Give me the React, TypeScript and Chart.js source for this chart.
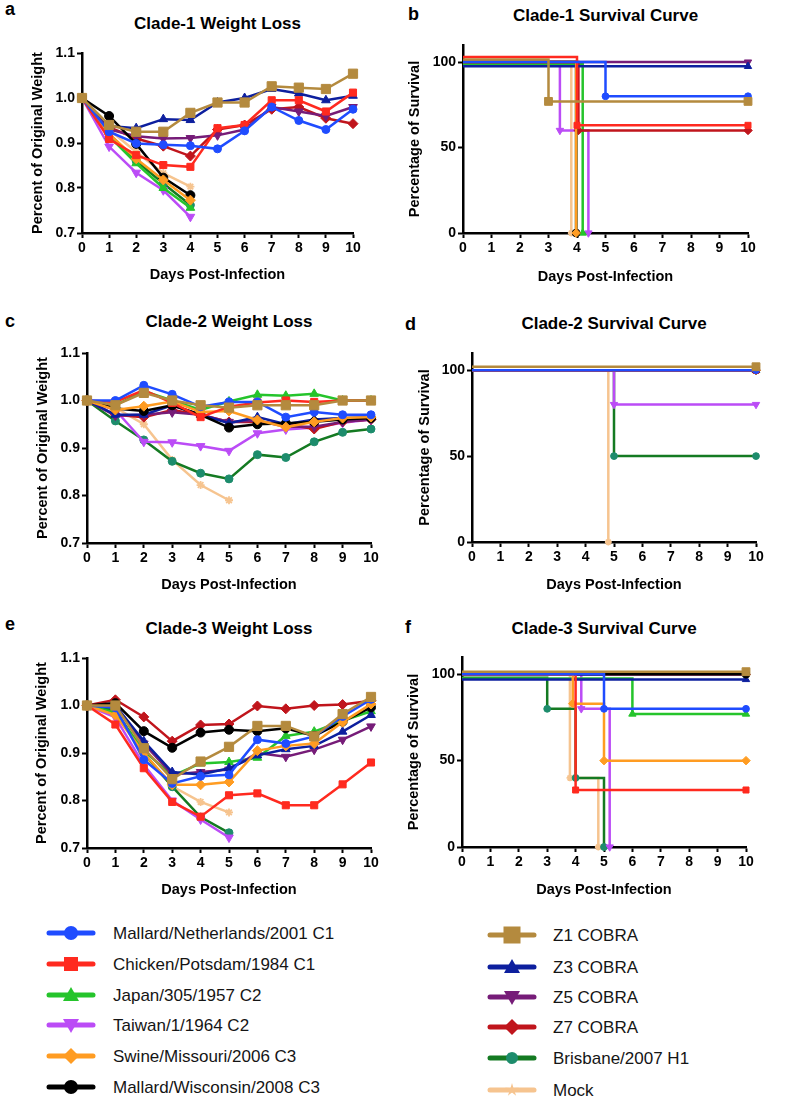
import React, { useEffect, useRef } from 'react';
import { Chart, registerables } from 'chart.js';

Chart.register(...registerables);

const FONT = "'Liberation Sans', Arial, Helvetica, sans-serif";

// ---------------- axes ----------------
const DAYS = [0, 1, 2, 3, 4, 5, 6, 7, 8, 9, 10];
const WEIGHT_TICKS = [0.7, 0.8, 0.9, 1.0, 1.1];
const SURVIVAL_TICKS = [0, 50, 100];

// ---------------- Clade-1 weight (fraction of original weight, by day) ----------------
const W1_MALLARD_NL = [1.0, 0.925, 0.899, 0.896, 0.894, 0.887, 0.927, 0.980, 0.950, 0.930, 0.975];
const W1_CHICKEN = [1.0, 0.909, 0.873, 0.851, 0.847, 0.933, 0.940, 0.995, 0.995, 0.970, 1.012];
const W1_JAPAN = [1.0, 0.915, 0.855, 0.800, 0.756];
const W1_TAIWAN = [1.0, 0.892, 0.834, 0.795, 0.736];
const W1_SWINE = [1.0, 0.920, 0.865, 0.818, 0.773];
const W1_MALLARD_WI = [1.0, 0.960, 0.898, 0.823, 0.784];
const W1_Z1 = [1.0, 0.940, 0.925, 0.925, 0.967, 0.990, 0.990, 1.026, 1.023, 1.020, 1.054];
const W1_Z3 = [1.0, 0.938, 0.933, 0.953, 0.951, 0.990, 1.000, 1.020, 1.010, 0.995, 1.005];
const W1_Z5 = [1.0, 0.930, 0.915, 0.910, 0.911, 0.917, 0.930, 0.980, 0.970, 0.960, 0.980];
const W1_Z7 = [1.0, 0.935, 0.910, 0.893, 0.871, 0.930, 0.940, 0.975, 0.980, 0.955, 0.943];
const W1_BRISBANE = [1.0, 0.920, 0.860, 0.810, 0.762];
const W1_MOCK = [1.0, 0.930, 0.880, 0.833, 0.803];

// ---------------- Clade-2 weight ----------------
const W2_MALLARD_NL = [1.0, 1.0, 1.032, 1.013, 0.987, 0.997, 0.997, 0.965, 0.976, 0.970, 0.970];
const W2_CHICKEN = [1.0, 0.997, 1.022, 0.995, 0.965, 0.987, 0.996, 1.0, 0.997, 1.0, 1.0];
const W2_JAPAN = [1.0, 0.990, 1.020, 1.000, 0.980, 0.998, 1.012, 1.010, 1.014, 1.0, 1.0];
const W2_TAIWAN = [1.0, 0.980, 0.913, 0.912, 0.904, 0.894, 0.931, 0.939, 0.943, 0.953, 0.960];
const W2_SWINE = [1.0, 0.980, 0.988, 0.998, 0.976, 0.978, 0.959, 0.944, 0.955, 0.963, 0.965];
const W2_MALLARD_WI = [1.0, 0.983, 0.978, 0.990, 0.970, 0.943, 0.950, 0.952, 0.955, 0.960, 0.963];
const W2_Z1 = [1.0, 0.990, 1.016, 1.000, 0.990, 0.985, 0.990, 0.990, 0.990, 1.0, 1.0];
const W2_Z3 = [1.0, 0.970, 0.970, 0.990, 0.970, 0.952, 0.965, 0.950, 0.960, 0.963, 0.965];
const W2_Z5 = [1.0, 0.968, 0.970, 0.975, 0.970, 0.955, 0.958, 0.945, 0.945, 0.955, 0.960];
const W2_Z7 = [1.0, 0.970, 0.965, 0.980, 0.970, 0.955, 0.955, 0.950, 0.940, 0.955, 0.960];
const W2_BRISBANE = [1.0, 0.957, 0.917, 0.872, 0.847, 0.835, 0.886, 0.880, 0.913, 0.933, 0.940];
const W2_MOCK = [1.0, 0.985, 0.950, 0.875, 0.822, 0.790];

// ---------------- Clade-3 weight ----------------
const W3_MALLARD_NL = [1.0, 0.995, 0.886, 0.836, 0.851, 0.854, 0.928, 0.920, 0.935, 0.977, 1.013];
const W3_CHICKEN = [1.0, 0.960, 0.868, 0.797, 0.766, 0.811, 0.815, 0.790, 0.790, 0.834, 0.880];
const W3_JAPAN = [1.0, 0.985, 0.905, 0.852, 0.878, 0.881, 0.890, 0.936, 0.945, 0.968, 0.988];
const W3_TAIWAN = [1.0, 0.975, 0.875, 0.800, 0.760, 0.722];
const W3_SWINE = [1.0, 0.980, 0.900, 0.833, 0.833, 0.839, 0.905, 0.915, 0.920, 0.965, 1.003];
const W3_MALLARD_WI = [1.0, 1.005, 0.946, 0.911, 0.943, 0.949, 0.946, 0.952, 0.936, 0.966, 0.996];
const W3_Z1 = [1.0, 1.0, 0.910, 0.845, 0.882, 0.913, 0.957, 0.957, 0.935, 0.982, 1.018];
const W3_Z3 = [1.0, 1.0, 0.925, 0.860, 0.855, 0.868, 0.895, 0.908, 0.915, 0.945, 0.980];
const W3_Z5 = [1.0, 1.0, 0.920, 0.855, 0.860, 0.865, 0.900, 0.892, 0.907, 0.928, 0.956];
const W3_Z7 = [1.0, 1.012, 0.976, 0.925, 0.959, 0.961, 0.999, 0.993, 1.0, 1.002, 1.010];
const W3_BRISBANE = [1.0, 0.990, 0.900, 0.829, 0.765, 0.732];
const W3_MOCK = [1.0, 0.985, 0.895, 0.830, 0.797, 0.775];

// ---------------- Clade-1 survival ([day, % surviving]) ----------------
const S1_MALLARD_NL = [[0, 100], [5, 80], [10, 80]];
const S1_CHICKEN = [[0, 103], [4, 63], [10, 63]];
const S1_JAPAN = [[0, 99], [4.2, 0]];
const S1_TAIWAN = [[0, 100], [3.4, 60], [4.4, 0]];
const S1_SWINE = [[0, 100], [3.97, 0]];
const S1_MALLARD_WI = [[0, 100], [3.97, 0]];
const S1_Z1 = [[0, 101.5], [3, 77], [10, 77]];
const S1_Z3 = [[0, 97.5], [10, 97.5]];
const S1_Z5 = [[0, 100], [10, 100]];
const S1_Z7 = [[0, 100], [4.05, 60], [10, 60]];
const S1_BRISBANE = [[0, 100], [3.97, 0]];
const S1_MOCK = [[0, 100], [3.8, 0]];

// ---------------- Clade-2 survival ----------------
const S2_MALLARD_NL = [[0, 100], [10, 100]];
const S2_CHICKEN = [[0, 100], [10, 100]];
const S2_JAPAN = [[0, 100], [10, 100]];
const S2_TAIWAN = [[0, 100], [5, 80], [10, 80]];
const S2_SWINE = [[0, 100], [10, 100]];
const S2_MALLARD_WI = [[0, 100], [10, 100]];
const S2_Z1 = [[0, 102], [10, 102]];
const S2_Z3 = [[0, 100], [10, 100]];
const S2_Z5 = [[0, 100], [10, 100]];
const S2_Z7 = [[0, 100], [10, 100]];
const S2_BRISBANE = [[0, 100], [5, 50], [10, 50]];
const S2_MOCK = [[0, 100], [4.8, 0]];

// ---------------- Clade-3 survival ----------------
const S3_MALLARD_NL = [[0, 100], [5, 80], [10, 80]];
const S3_CHICKEN = [[0, 100], [4, 33], [10, 33]];
const S3_JAPAN = [[0, 97.5], [6, 77], [10, 77]];
const S3_TAIWAN = [[0, 100], [4.2, 80], [5.2, 0]];
const S3_SWINE = [[0, 100], [3.9, 83], [5, 50], [10, 50]];
const S3_MALLARD_WI = [[0, 100], [10, 100]];
const S3_Z1 = [[0, 101.5], [10, 101.5]];
const S3_Z3 = [[0, 97], [10, 97]];
const S3_Z5 = [[0, 100], [10, 100]];
const S3_Z7 = [[0, 100], [10, 100]];
const S3_BRISBANE = [[0, 98], [3, 80], [4, 40], [5, 0]];
const S3_MOCK = [[0, 100], [3.8, 40], [4.8, 0]];

// ---------------- series styles ----------------
const STYLE: Record<string, any> = {
  mallardNL: { label: 'Mallard/Netherlands/2001 C1', color: '#1f4cff', shape: 'circle', rot: 0, r: 4 },
  chicken: { label: 'Chicken/Potsdam/1984 C1', color: '#ff2a1f', shape: 'rect', rot: 0, r: 5 },
  japan: { label: 'Japan/305/1957 C2', color: '#25c42b', shape: 'triangle', rot: 0, r: 5 },
  taiwan: { label: 'Taiwan/1/1964 C2', color: '#bb4cf6', shape: 'triangle', rot: 180, r: 5 },
  swine: { label: 'Swine/Missouri/2006 C3', color: '#ff9c22', shape: 'rectRot', rot: 0, r: 5 },
  mallardWI: { label: 'Mallard/Wisconsin/2008 C3', color: '#000000', shape: 'circle', rot: 0, r: 4.5 },
  z1: { label: 'Z1 COBRA', color: '#b48a3e', shape: 'rect', rot: 0, r: 6.5 },
  z3: { label: 'Z3 COBRA', color: '#0d1f9e', shape: 'triangle', rot: 0, r: 5 },
  z5: { label: 'Z5 COBRA', color: '#761c78', shape: 'triangle', rot: 180, r: 5 },
  z7: { label: 'Z7 COBRA', color: '#c0151c', shape: 'rectRot', rot: 0, r: 5 },
  brisbane: { label: 'Brisbane/2007 H1', color: '#147a22', point: '#1d8c6c', shape: 'circle', rot: 0, r: 4 },
  mock: { label: 'Mock', color: '#f6c48f', shape: 'star', rot: 0, r: 4 },
};

// first = drawn on top
const DRAW_ORDER = ['z1', 'mallardNL', 'chicken', 'swine', 'mallardWI', 'z3', 'z5', 'z7', 'japan', 'taiwan', 'brisbane', 'mock'];

const LEGEND_LEFT = ['mallardNL', 'chicken', 'japan', 'taiwan', 'swine', 'mallardWI'];
const LEGEND_RIGHT = ['z1', 'z3', 'z5', 'z7', 'brisbane', 'mock'];
const LEGEND_LEFT_ROWS = [933, 964, 995, 1025, 1056, 1087];
const LEGEND_RIGHT_ROWS = [935, 967, 997, 1027, 1058, 1090];

const PANELS: any[] = [
  {
    letter: 'a', title: 'Clade-1 Weight Loss', kind: 'weight',
    series: { mallardNL: W1_MALLARD_NL, chicken: W1_CHICKEN, japan: W1_JAPAN, taiwan: W1_TAIWAN, swine: W1_SWINE, mallardWI: W1_MALLARD_WI, z1: W1_Z1, z3: W1_Z3, z5: W1_Z5, z7: W1_Z7, brisbane: W1_BRISBANE, mock: W1_MOCK },
    L: 82, R: 353, T: 53, B: 233, yt: 38, xt: 275, cl: 0, titleBase: 29.5, letterBase: 15, letterX: 5,
  },
  {
    letter: 'b', title: 'Clade-1 Survival Curve', kind: 'survival',
    series: { mallardNL: S1_MALLARD_NL, chicken: S1_CHICKEN, japan: S1_JAPAN, taiwan: S1_TAIWAN, swine: S1_SWINE, mallardWI: S1_MALLARD_WI, z1: S1_Z1, z3: S1_Z3, z5: S1_Z5, z7: S1_Z7, brisbane: S1_BRISBANE, mock: S1_MOCK },
    L: 463, R: 748, T: 45, B: 233, yt: 415, xt: 277, cl: 400, titleBase: 21, letterBase: 20, letterX: 408,
  },
  {
    letter: 'c', title: 'Clade-2 Weight Loss', kind: 'weight',
    series: { mallardNL: W2_MALLARD_NL, chicken: W2_CHICKEN, japan: W2_JAPAN, taiwan: W2_TAIWAN, swine: W2_SWINE, mallardWI: W2_MALLARD_WI, z1: W2_Z1, z3: W2_Z3, z5: W2_Z5, z7: W2_Z7, brisbane: W2_BRISBANE, mock: W2_MOCK },
    L: 87, R: 371, T: 353, B: 543, yt: 43, xt: 585, cl: 0, titleBase: 327, letterBase: 327, letterX: 5,
  },
  {
    letter: 'd', title: 'Clade-2 Survival Curve', kind: 'survival',
    series: { mallardNL: S2_MALLARD_NL, chicken: S2_CHICKEN, japan: S2_JAPAN, taiwan: S2_TAIWAN, swine: S2_SWINE, mallardWI: S2_MALLARD_WI, z1: S2_Z1, z3: S2_Z3, z5: S2_Z5, z7: S2_Z7, brisbane: S2_BRISBANE, mock: S2_MOCK },
    L: 472, R: 756, T: 353, B: 542, yt: 425, xt: 585, cl: 400, titleBase: 329, letterBase: 330, letterX: 405,
  },
  {
    letter: 'e', title: 'Clade-3 Weight Loss', kind: 'weight',
    series: { mallardNL: W3_MALLARD_NL, chicken: W3_CHICKEN, japan: W3_JAPAN, taiwan: W3_TAIWAN, swine: W3_SWINE, mallardWI: W3_MALLARD_WI, z1: W3_Z1, z3: W3_Z3, z5: W3_Z5, z7: W3_Z7, brisbane: W3_BRISBANE, mock: W3_MOCK },
    L: 87, R: 371, T: 658, B: 848, yt: 42, xt: 890, cl: 0, titleBase: 634, letterBase: 630, letterX: 5,
  },
  {
    letter: 'f', title: 'Clade-3 Survival Curve', kind: 'survival',
    series: { mallardNL: S3_MALLARD_NL, chicken: S3_CHICKEN, japan: S3_JAPAN, taiwan: S3_TAIWAN, swine: S3_SWINE, mallardWI: S3_MALLARD_WI, z1: S3_Z1, z3: S3_Z3, z5: S3_Z5, z7: S3_Z7, brisbane: S3_BRISBANE, mock: S3_MOCK },
    L: 462, R: 746, T: 657, B: 847, yt: 414, xt: 890, cl: 400, titleBase: 634, letterBase: 633, letterX: 405,
  },
];

const TITLE_FONT_SIZE = 14.5;
const TITLE_HALF = (TITLE_FONT_SIZE * 1.2) / 2;

function geometry(p: any) {
  const ct = p.T - 14;
  const cw = p.R + 24 - p.cl;
  const ch = Math.round(p.xt + TITLE_HALF + 2 - ct);
  return { ct, cw, ch };
}

function buildConfig(p: any, ct: number, cw: number, ch: number): any {
  const isW = p.kind === 'weight';
  const tickFont = { family: FONT, size: 14, weight: 'bold' };
  const axTitleFont = { family: FONT, size: TITLE_FONT_SIZE, weight: 'bold' };
  const datasets = DRAW_ORDER.filter((k) => p.series[k]).map((k) => {
    const st = STYLE[k];
    const raw = p.series[k];
    const pts = isW
      ? raw.map((v: number, i: number) => ({ x: DAYS[i], y: v }))
      : raw.map((xy: number[]) => ({ x: xy[0], y: xy[1] }));
    const pc = st.point || st.color;
    const rad = isW ? st.r : st.r * 0.85;
    return {
      label: st.label,
      data: pts,
      borderColor: st.color,
      backgroundColor: pc,
      borderWidth: 2.5,
      pointStyle: st.shape,
      pointRotation: st.rot,
      pointRadius: isW ? rad : pts.map((_: any, i: number) => (i === 0 ? 0 : rad)),
      pointBackgroundColor: pc,
      pointBorderColor: pc,
      pointBorderWidth: st.shape === 'star' ? 1.8 : 1,
      stepped: isW ? false : 'before',
      tension: 0,
      clip: false,
    };
  });
  const gridOpts = { display: true, drawOnChartArea: false, drawTicks: true, tickLength: 5, tickWidth: 2, tickColor: '#000', color: '#000' };
  return {
    type: 'line',
    data: { datasets },
    options: {
      responsive: false,
      animation: false,
      devicePixelRatio: 1,
      events: [],
      layout: { padding: { left: 0, top: p.T - ct, right: p.cl + cw - p.R, bottom: 0 } },
      plugins: { legend: { display: false }, tooltip: { enabled: false }, title: { display: false } },
      scales: {
        x: {
          type: 'linear', position: 'bottom', min: 0, max: 10,
          afterBuildTicks: (s: any) => { s.ticks = DAYS.map((v) => ({ value: v })); },
          afterFit: (s: any) => { s.height = ct + ch - p.B; s.paddingLeft = 0; s.paddingRight = 0; },
          grid: gridOpts,
          border: { display: true, color: '#000', width: 2.5 },
          ticks: { color: '#000', font: tickFont, padding: 2, maxRotation: 0, autoSkip: false, callback: (v: any) => String(v) },
          title: { display: true, text: 'Days Post-Infection', color: '#000', font: axTitleFont, padding: { top: 0, bottom: 2 } },
        },
        y: {
          type: 'linear', position: 'left', min: isW ? 0.7 : 0, max: isW ? 1.1 : 110,
          afterBuildTicks: (s: any) => { s.ticks = (isW ? WEIGHT_TICKS : SURVIVAL_TICKS).map((v) => ({ value: v })); },
          afterFit: (s: any) => { s.width = p.L - p.cl; s.paddingTop = 0; s.paddingBottom = 0; },
          grid: gridOpts,
          border: { display: true, color: '#000', width: 2.5 },
          ticks: { color: '#000', font: tickFont, padding: 2, callback: (v: any) => (isW ? Number(v).toFixed(1) : String(v)) },
          title: {
            display: true, text: isW ? 'Percent of Original Weight' : 'Percentage of Survival', color: '#000', font: axTitleFont,
            padding: { top: p.yt - p.cl - TITLE_HALF, bottom: 0 },
          },
        },
      },
    },
  };
}

function PanelChart({ p }: { p: any }) {
  const ref = useRef<HTMLCanvasElement>(null);
  const { ct, cw, ch } = geometry(p);
  useEffect(() => {
    const chart = new Chart(ref.current as HTMLCanvasElement, buildConfig(p, ct, cw, ch));
    return () => chart.destroy();
  }, []);
  return (
    <canvas
      ref={ref}
      width={cw}
      height={ch}
      style={{ position: 'absolute', left: p.cl, top: ct, width: cw, height: ch }}
    />
  );
}

function PanelText({ p }: { p: any }) {
  const cx = (p.L + p.R) / 2;
  return (
    <>
      <div style={{ position: 'absolute', left: p.letterX, top: p.letterBase - 0.8465 * 18, fontFamily: FONT, fontWeight: 'bold', fontSize: 18, lineHeight: '18px', color: '#000' }}>
        {p.letter}
      </div>
      <div style={{ position: 'absolute', left: cx - 200, width: 400, textAlign: 'center', top: p.titleBase - 0.8465 * 17, fontFamily: FONT, fontWeight: 'bold', fontSize: 17, lineHeight: '17px', color: '#000', whiteSpace: 'nowrap' }}>
        {p.title}
      </div>
    </>
  );
}

function Marker({ k }: { k: string }) {
  const st = STYLE[k];
  const c = st.point || st.color;
  const cx = 25, cy = 11;
  if (st.shape === 'circle') return <circle cx={cx} cy={cy} r={k === 'brisbane' ? 6 : 7} fill={c} />;
  if (st.shape === 'rect') {
    const s = k === 'z1' ? 17 : 14;
    return <rect x={cx - s / 2} y={cy - s / 2} width={s} height={s} fill={c} />;
  }
  if (st.shape === 'triangle' && st.rot === 180) return <polygon points={`${cx - 8},${cy - 6} ${cx + 8},${cy - 6} ${cx},${cy + 8}`} fill={c} />;
  if (st.shape === 'triangle') return <polygon points={`${cx},${cy - 8} ${cx + 8},${cy + 6} ${cx - 8},${cy + 6}`} fill={c} />;
  if (st.shape === 'rectRot') return <polygon points={`${cx},${cy - 8} ${cx + 8},${cy} ${cx},${cy + 8} ${cx - 8},${cy}`} fill={c} />;
  // star
  const pts: string[] = [];
  for (let i = 0; i < 10; i++) {
    const a = -Math.PI / 2 + (i * Math.PI) / 5;
    const rr = i % 2 === 0 ? 7 : 2.5;
    pts.push(`${cx + rr * Math.cos(a)},${cy + rr * Math.sin(a)}`);
  }
  return <polygon points={pts.join(' ')} fill={c} />;
}

function LegendItem({ k, row, lineLeft, textLeft }: { k: string; row: number; lineLeft: number; textLeft: number }) {
  const st = STYLE[k];
  return (
    <>
      <svg width={50} height={22} style={{ position: 'absolute', left: lineLeft - 3, top: row - 11 }}>
        <line x1={3} y1={11} x2={47} y2={11} stroke={st.color} strokeWidth={5} strokeLinecap="round" />
        <Marker k={k} />
      </svg>
      <div style={{ position: 'absolute', left: textLeft, top: row + 6 - 0.8465 * 17, fontFamily: FONT, fontSize: 17, lineHeight: '17px', color: '#151515', whiteSpace: 'nowrap' }}>
        {st.label}
      </div>
    </>
  );
}

export default function App() {
  return (
    <div style={{ position: 'absolute', left: 0, top: 0, width: 800, height: 1101, background: '#fff', overflow: 'hidden' }}>
      {PANELS.map((p) => (
        <React.Fragment key={p.letter}>
          <PanelChart p={p} />
          <PanelText p={p} />
        </React.Fragment>
      ))}
      {LEGEND_LEFT.map((k, i) => (
        <LegendItem key={k} k={k} row={LEGEND_LEFT_ROWS[i]} lineLeft={49} textLeft={113} />
      ))}
      {LEGEND_RIGHT.map((k, i) => (
        <LegendItem key={k} k={k} row={LEGEND_RIGHT_ROWS[i]} lineLeft={490} textLeft={553} />
      ))}
    </div>
  );
}
